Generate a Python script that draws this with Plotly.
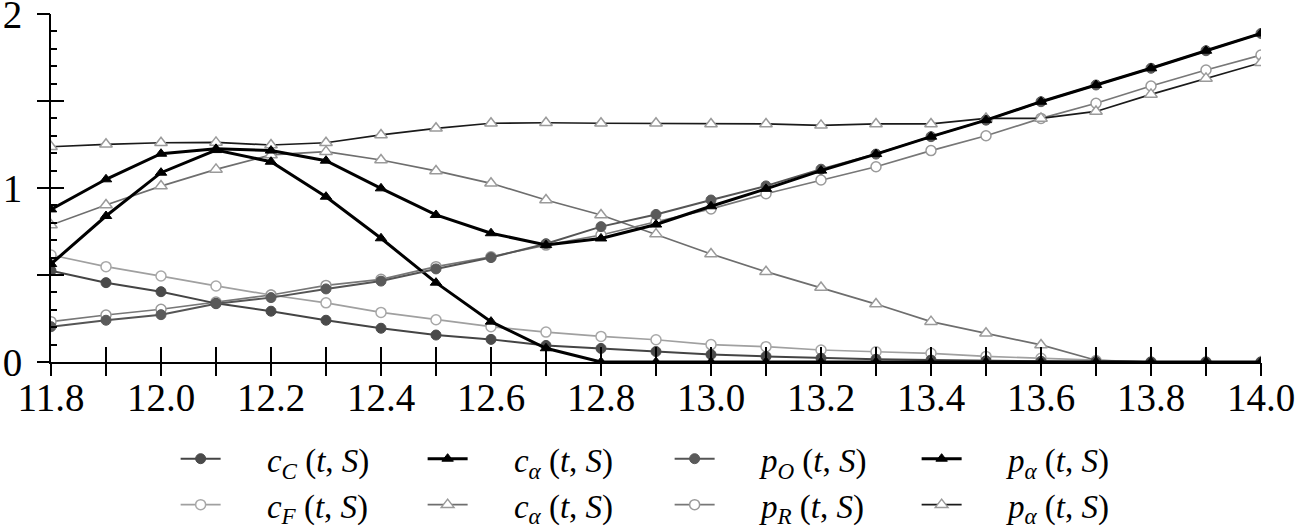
import plotly.graph_objects as go

x_vals = [11.8, 11.9, 12.0, 12.1, 12.2, 12.3, 12.4, 12.5, 12.6, 12.7, 12.8, 12.9,
          13.0, 13.1, 13.2, 13.3, 13.4, 13.5, 13.6, 13.7, 13.8, 13.9, 14.0]

c_C = [0.525, 0.456, 0.404, 0.337, 0.292, 0.240, 0.194, 0.155, 0.130, 0.095, 0.078, 0.060,
       0.043, 0.032, 0.022, 0.016, 0.011, 0.007, 0.004, 0.002, 0.0, 0.0, 0.0]
c_F = [0.615, 0.548, 0.494, 0.437, 0.385, 0.340, 0.285, 0.243, 0.203, 0.172, 0.147, 0.128,
       0.100, 0.088, 0.069, 0.059, 0.050, 0.032, 0.021, 0.008, 0.0, 0.0, 0.0]
c_alpha_filled = [0.563, 0.839, 1.088, 1.218, 1.151, 0.950, 0.711, 0.456, 0.232, 0.079, 0.0, 0.0,
                  0.0, 0.0, 0.0, 0.0, 0.0, 0.0, 0.0, 0.0, 0.0, 0.0, 0.0]
c_alpha_open = [0.787, 0.902, 1.011, 1.107, 1.190, 1.209, 1.161, 1.098, 1.027, 0.931, 0.845, 0.735,
                0.621, 0.519, 0.428, 0.333, 0.232, 0.165, 0.098, 0.010, 0.0, 0.0, 0.0]
p_O = [0.203, 0.240, 0.272, 0.335, 0.370, 0.420, 0.465, 0.535, 0.600, 0.680, 0.778, 0.848,
       0.931, 1.012, 1.108, 1.195, 1.295, 1.390, 1.496, 1.592, 1.688, 1.789, 1.888]
p_R = [0.232, 0.270, 0.303, 0.345, 0.385, 0.440, 0.475, 0.548, 0.605, 0.672, 0.730, 0.806,
       0.880, 0.967, 1.046, 1.122, 1.215, 1.300, 1.400, 1.487, 1.586, 1.678, 1.764]
p_alpha_filled = [0.877, 1.050, 1.197, 1.225, 1.215, 1.157, 0.998, 0.845, 0.740, 0.672, 0.710, 0.790,
                  0.895, 0.995, 1.100, 1.195, 1.295, 1.390, 1.496, 1.592, 1.688, 1.789, 1.888]
p_alpha_open = [1.237, 1.251, 1.260, 1.262, 1.247, 1.260, 1.305, 1.343, 1.372, 1.375, 1.372, 1.372,
                1.368, 1.368, 1.360, 1.368, 1.368, 1.400, 1.400, 1.440, 1.538, 1.630, 1.720]

x_tick_vals = x_vals
x_tick_text = ["11.8", "", "12.0", "", "12.2", "", "12.4", "", "12.6", "", "12.8", "",
               "13.0", "", "13.2", "", "13.4", "", "13.6", "", "13.8", "", "14.0"]
y_tick_vals = [0, 0.5, 1, 1.5, 2]
y_tick_text = ["0", "", "1", "", "2"]

SERIF = "Liberation Serif, Times New Roman, Times, serif"
GAP = "&nbsp;" * 5


def lbl(base, sub):
    return f"{GAP}<i>{base}</i><sub><i>{sub}</i></sub> (<i>t</i>, <i>S</i>)"


fig = go.Figure()

# second legend row (open markers) drawn first, underneath
fig.add_trace(go.Scatter(x=x_vals, y=c_F, mode="lines+markers", name=lbl("c", "F"),
                         legend="legend2",
                         line=dict(color="#a0a0a0", width=1.7),
                         marker=dict(symbol="circle", size=10, color="white",
                                     line=dict(color="#a8a8a8", width=1.5))))
fig.add_trace(go.Scatter(x=x_vals, y=c_alpha_open, mode="lines+markers", name=lbl("c", "α"),
                         legend="legend2",
                         line=dict(color="#6e6e6e", width=1.7),
                         marker=dict(symbol="triangle-up", size=11, color="white",
                                     line=dict(color="#9a9a9a", width=1.5))))
fig.add_trace(go.Scatter(x=x_vals, y=p_R, mode="lines+markers", name=lbl("p", "R"),
                         legend="legend2",
                         line=dict(color="#777777", width=1.7),
                         marker=dict(symbol="circle", size=10, color="white",
                                     line=dict(color="#9a9a9a", width=1.5))))
fig.add_trace(go.Scatter(x=x_vals, y=p_alpha_open, mode="lines+markers", name=lbl("p", "α"),
                         legend="legend2",
                         line=dict(color="#1a1a1a", width=1.7),
                         marker=dict(symbol="triangle-up", size=11, color="white",
                                     line=dict(color="#9a9a9a", width=1.5))))

# first legend row (filled markers)
fig.add_trace(go.Scatter(x=x_vals, y=c_C, mode="lines+markers", name=lbl("c", "C"),
                         legend="legend",
                         line=dict(color="#444444", width=2),
                         marker=dict(symbol="circle", size=10, color="#4a4a4a",
                                     line=dict(color="#4a4a4a", width=1))))
fig.add_trace(go.Scatter(x=x_vals, y=c_alpha_filled, mode="lines+markers", name=lbl("c", "α"),
                         legend="legend",
                         line=dict(color="#000000", width=3),
                         marker=dict(symbol="triangle-up", size=10, color="#000000",
                                     line=dict(color="#000000", width=1))))
fig.add_trace(go.Scatter(x=x_vals, y=p_O, mode="lines+markers", name=lbl("p", "O"),
                         legend="legend",
                         line=dict(color="#555555", width=2),
                         marker=dict(symbol="circle", size=10, color="#5a5a5a",
                                     line=dict(color="#5a5a5a", width=1))))
fig.add_trace(go.Scatter(x=x_vals, y=p_alpha_filled, mode="lines+markers", name=lbl("p", "α"),
                         legend="legend",
                         line=dict(color="#000000", width=3),
                         marker=dict(symbol="triangle-up", size=10, color="#000000",
                                     line=dict(color="#000000", width=1))))

axis_font = dict(family=SERIF, size=39, color="black")
legend_font = dict(family=SERIF, size=33, color="black")

fig.update_layout(
    width=1296, height=530,
    margin=dict(l=51, r=35, t=14, b=168, autoexpand=False),
    paper_bgcolor="white", plot_bgcolor="white",
    font=dict(family=SERIF),
    xaxis=dict(range=[11.8, 14.0], tickmode="array", tickvals=x_tick_vals, ticktext=x_tick_text,
               ticks="inside", ticklen=15, tickwidth=2, tickcolor="black",
               showline=True, linecolor="black", linewidth=2, showgrid=False, zeroline=False,
               tickfont=axis_font, ticklabeloverflow="allow", automargin=False),
    xaxis2=dict(range=[11.8, 14.0], overlaying="x", side="bottom", tickmode="array",
                tickvals=x_tick_vals, ticks="outside", ticklen=13, tickwidth=2, tickcolor="black",
                showticklabels=False, showline=False, showgrid=False, zeroline=False,
                automargin=False),
    yaxis=dict(range=[0, 2], tickmode="array", tickvals=y_tick_vals, ticktext=y_tick_text,
               ticks="inside", ticklen=13, tickwidth=2, tickcolor="black",
               minor=dict(tickmode="linear", dtick=0.1, ticks="inside", ticklen=6, tickwidth=1.5,
                          tickcolor="black", showgrid=False),
               showline=True, linecolor="black", linewidth=2, showgrid=False, zeroline=False,
               tickfont=axis_font, ticklabelstandoff=19, ticklabeloverflow="allow",
               automargin=False),
    yaxis2=dict(range=[0, 2], overlaying="y", side="left", tickmode="array",
                tickvals=y_tick_vals, ticks="outside", ticklen=13, tickwidth=2, tickcolor="black",
                showticklabels=False, showline=False, showgrid=False, zeroline=False,
                automargin=False),
    legend=dict(orientation="h", x=0.103, xanchor="left", y=-0.278, yanchor="middle",
                font=legend_font, bgcolor="rgba(0,0,0,0)", entrywidth=192, itemwidth=40,
                traceorder="normal"),
    legend2=dict(orientation="h", x=0.103, xanchor="left", y=-0.41, yanchor="middle",
                 font=legend_font, bgcolor="rgba(0,0,0,0)", entrywidth=192, itemwidth=40,
                 traceorder="normal"),
    showlegend=True,
)

# invisible helper trace so the overlay axes render
fig.add_trace(go.Scatter(x=[11.8], y=[0], xaxis="x2", yaxis="y2", mode="markers",
                         marker=dict(opacity=0), showlegend=False, hoverinfo="skip"))

fig.write_html("out.html", config={"displayModeBar": False},
               post_script="document.body.style.margin='0';document.body.style.overflow='hidden';")
